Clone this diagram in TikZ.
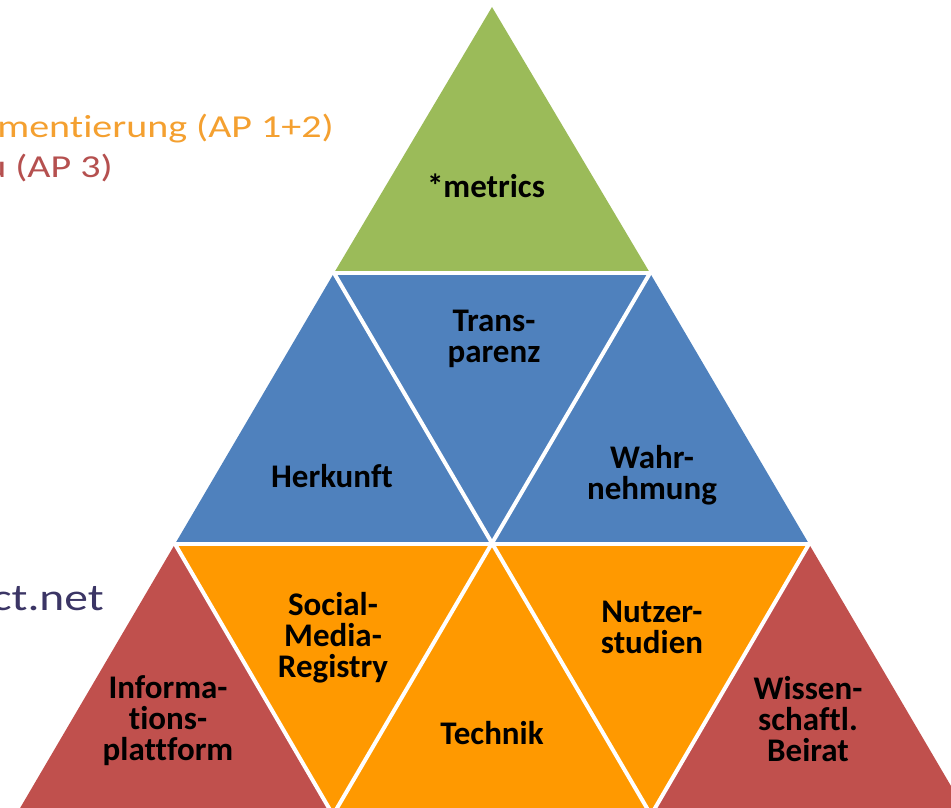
\documentclass[tikz,border=0pt]{standalone}
\usepackage{fontspec}
\setmainfont{Carlito}[Ligatures=NoCommon]
\definecolor{cgreen}{HTML}{9BBB59}
\definecolor{cblue}{HTML}{4F81BD}
\definecolor{corange}{HTML}{FF9900}
\definecolor{cred}{HTML}{C0504D}
\definecolor{torange}{HTML}{F4A030}
\definecolor{tred}{HTML}{B5504F}
\definecolor{tnavy}{HTML}{3B3565}
\tikzset{
  lbl/.style={font=\fontsize{33}{31}\selectfont\bfseries, align=center, text=black, inner sep=0pt},
  side/.style={font=\fontsize{32}{34}\selectfont, inner sep=0pt, anchor=base east, xscale=1.25},
  gap/.style={draw=white, line width=4pt}
}
\begin{document}
\begin{tikzpicture}[x=1pt,y=-1pt]
\useasboundingbox (0,0) rectangle (951,808);
\clip (0,0) rectangle (951,808);
% grid points
\coordinate (A) at (492,7);
\coordinate (P1) at (334,273);
\coordinate (Q1) at (650,273);
\coordinate (P2) at (175,544);
\coordinate (M2) at (492,544);
\coordinate (Q2) at (809,544);
\coordinate (P3) at (16,815);
\coordinate (Ma) at (333,815);
\coordinate (Mb) at (651,815);
\coordinate (Q3) at (968,815);
% fills
\fill[cgreen] (A) -- (P1) -- (Q1) -- cycle;
\fill[cblue] (P1) -- (P2) -- (M2) -- cycle;
\fill[cblue] (P1) -- (Q1) -- (M2) -- cycle;
\fill[cblue] (Q1) -- (M2) -- (Q2) -- cycle;
\fill[cred] (P2) -- (P3) -- (Ma) -- cycle;
\fill[corange] (P2) -- (M2) -- (Ma) -- cycle;
\fill[corange] (M2) -- (Ma) -- (Mb) -- cycle;
\fill[corange] (M2) -- (Q2) -- (Mb) -- cycle;
\fill[cred] (Q2) -- (Mb) -- (Q3) -- cycle;
% white gaps
\draw[gap] (0,273) -- (951,273);
\draw[gap] (0,544) -- (951,544);
\draw[gap] (P1) -- (Mb);
\draw[gap] (Q1) -- (Ma);
\draw[gap] (P2) -- (Ma);
\draw[gap] (Q2) -- (Mb);
% labels
\node[lbl] (metrics) at (486,186) {*metrics};
\node[lbl] (trans) at (494,339) {Trans-\\parenz};
\node[lbl] (herk) at (332,476) {Herkunft};
\node[lbl] (wahr) at (652,475) {Wahr-\\nehmung};
\node[lbl] (smr) at (333,638) {Social-\\Media-\\Registry};
\node[lbl] (nutz) at (652,627) {Nutzer-\\studien};
\node[lbl] (tech) at (492,733) {Technik};
\node[lbl] (info) at (168,721) {Informa-\\tions-\\plattform};
\node[lbl] (wiss) at (808,719) {Wissen-\\schaftl.\\Beirat};
% side texts
\node[side, text=torange] (ap12) at (334,137) {mentierung (AP 1+2)};
\node[side, text=tred] (ap3) at (113,177) {u (AP 3)};
\node[side, text=tnavy, font=\fontsize{38}{40}\selectfont] (net) at (104,610) {ct.net};
\end{tikzpicture}
\end{document}
